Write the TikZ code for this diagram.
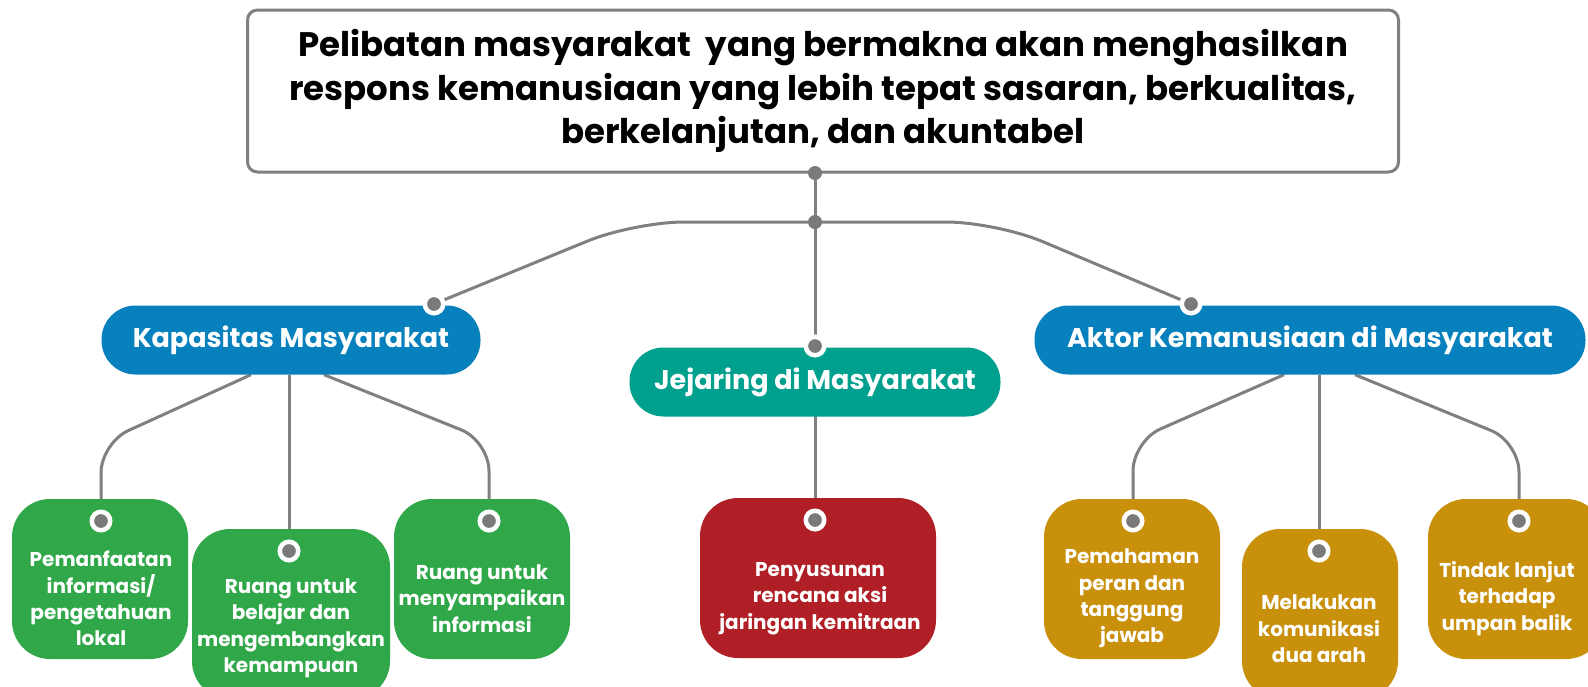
\documentclass[tikz,border=0pt]{standalone}
\usepackage{fontspec}
\setmainfont{Poppins}
\usetikzlibrary{backgrounds}
\definecolor{lineg}{HTML}{808080}
\definecolor{dotg}{HTML}{7A7A7A}
\definecolor{kblue}{HTML}{0681BD}
\definecolor{kteal}{HTML}{00A08F}
\definecolor{kgreen}{HTML}{30A849}
\definecolor{kred}{HTML}{B01F25}
\definecolor{kgold}{HTML}{C9900B}
\begin{document}
\begin{tikzpicture}[x=1pt,y=-1pt,
  conn/.style={draw=lineg, line width=3pt},
  topbox/.style={draw=lineg, line width=3pt, rounded corners=10pt, fill=white, minimum width=1151pt, minimum height=162pt, inner sep=0pt, align=center, font=\bfseries\fontsize{34}{43.6}\selectfont},
  head/.style={rounded corners=34pt, minimum height=69pt, inner sep=0pt, text=white, font=\bfseries\fontsize{27}{30}\selectfont},
  leaf/.style={rounded corners=38pt, minimum height=160pt, inner sep=0pt},
  leaftext/.style={text=white, align=center, font=\bfseries\fontsize{20}{26.4}\selectfont, inner sep=0pt},
  gdot/.style={circle, fill=dotg, inner sep=0pt, minimum size=14pt},
  rdot/.style={circle, fill=dotg, draw=white, line width=4.5pt, inner sep=0pt, minimum size=18.5pt}]
\begin{scope}[on background layer]
\fill[white] (0,0) rectangle (1588,686);
\end{scope}
\clip (0,0) rectangle (1588,686);

% top box
\node[topbox] (top) at (823,91) {Pelibatan masyarakat~ yang bermakna akan menghasilkan\\respons kemanusiaan yang lebih tepat sasaran, berkualitas,\\berkelanjutan, dan akuntabel};
\node[gdot] (tdot) at (815,173) {};
\node[gdot] (jn) at (815,222) {};
\coordinate (cl) at (634,222);
\coordinate (cr) at (996,222);

% header nodes
\node[head, fill=kblue, minimum width=379pt] (kap) at (291,340) {Kapasitas Masyarakat};
\node[head, fill=kteal, minimum width=371pt] (jej) at (815,382) {Jejaring di Masyarakat};
\node[head, fill=kblue, minimum width=551pt] (akt) at (1310,340) {Aktor Kemanusiaan di Masyarakat};

% leaf boxes
\node[leaf, fill=kgreen, minimum width=176pt] (g1) at (100,579) {};
\node[leaf, fill=kgreen, minimum width=198pt, minimum height=170pt] (g2) at (291,614) {};
\node[leaf, fill=kgreen, minimum width=176pt] (g3) at (482,579) {};
\node[leaf, fill=kred, minimum width=236pt] (r1) at (818,578) {};
\node[leaf, fill=kgold, minimum width=176pt] (o1) at (1132,579) {};
\node[leaf, fill=kgold, minimum width=156pt, minimum height=170pt] (o2) at (1320,614) {};
\node[leaf, fill=kgold, minimum width=176pt] (o3) at (1516,579) {};

% dots
\node[rdot] (kdot) at (434,304) {};
\node[rdot] (jdot) at (815,346) {};
\node[rdot] (adot) at (1191,304) {};
\node[rdot] (g1dot) at (101,521) {};
\node[rdot] (g2dot) at (289,551) {};
\node[rdot] (g3dot) at (489,521) {};
\node[rdot] (r1dot) at (815,520) {};
\node[rdot] (o1dot) at (1133,521) {};
\node[rdot] (o2dot) at (1319,551) {};
\node[rdot] (o3dot) at (1519,521) {};

% connectors (behind)
\begin{scope}[on background layer]
\draw[conn] (tdot.center) -- (jn.center);
\draw[conn, rounded corners=50pt] (kdot.center) -- (cl) -- (jn.center) -- (cr) -- (adot.center);
\draw[conn] (jn.center) -- (jdot.center);
\draw[conn] (jej.center) -- (r1dot.center);
% Kapasitas children
\draw[conn, rounded corners=30pt] ([xshift=-40pt]kap.south) -- (101,443) -- (g1dot |- g1.north);
\draw[conn] (g2dot |- kap.south) -- (g2dot |- g2.north);
\draw[conn, rounded corners=30pt] ([xshift=33pt]kap.south) -- (489,441) -- (g3dot |- g3.north);
% Aktor children
\draw[conn, rounded corners=30pt] ([xshift=-26pt]akt.south) -- (1133,441) -- (o1dot |- o1.north);
\draw[conn] (o2dot |- akt.south) -- (o2dot |- o2.north);
\draw[conn, rounded corners=30pt] ([xshift=45pt]akt.south) -- (1519,442) -- (o3dot |- o3.north);
\end{scope}

% leaf texts
\node[leaftext] (g1t) at (101,598.6) {Pemanfaatan\\informasi/\\pengetahuan\\lokal};
\node[leaftext] (g2t) at (291,628.4) {Ruang untuk\\belajar dan\\mengembangkan\\kemampuan};
\node[leaftext] (g3t) at (482,598.6) {Ruang untuk\\menyampaikan\\informasi};
\node[leaftext] (r1t) at (820,598.6) {Penyusunan\\rencana aksi\\jaringan kemitraan};
\node[leaftext] (o1t) at (1132,598.6) {Pemahaman\\peran dan\\tanggung\\jawab};
\node[leaftext] (o2t) at (1319,629) {Melakukan\\komunikasi\\dua arah};
\node[leaftext] (o3t) at (1507,598.6) {Tindak lanjut\\terhadap\\umpan balik};
\end{tikzpicture}
\end{document}
